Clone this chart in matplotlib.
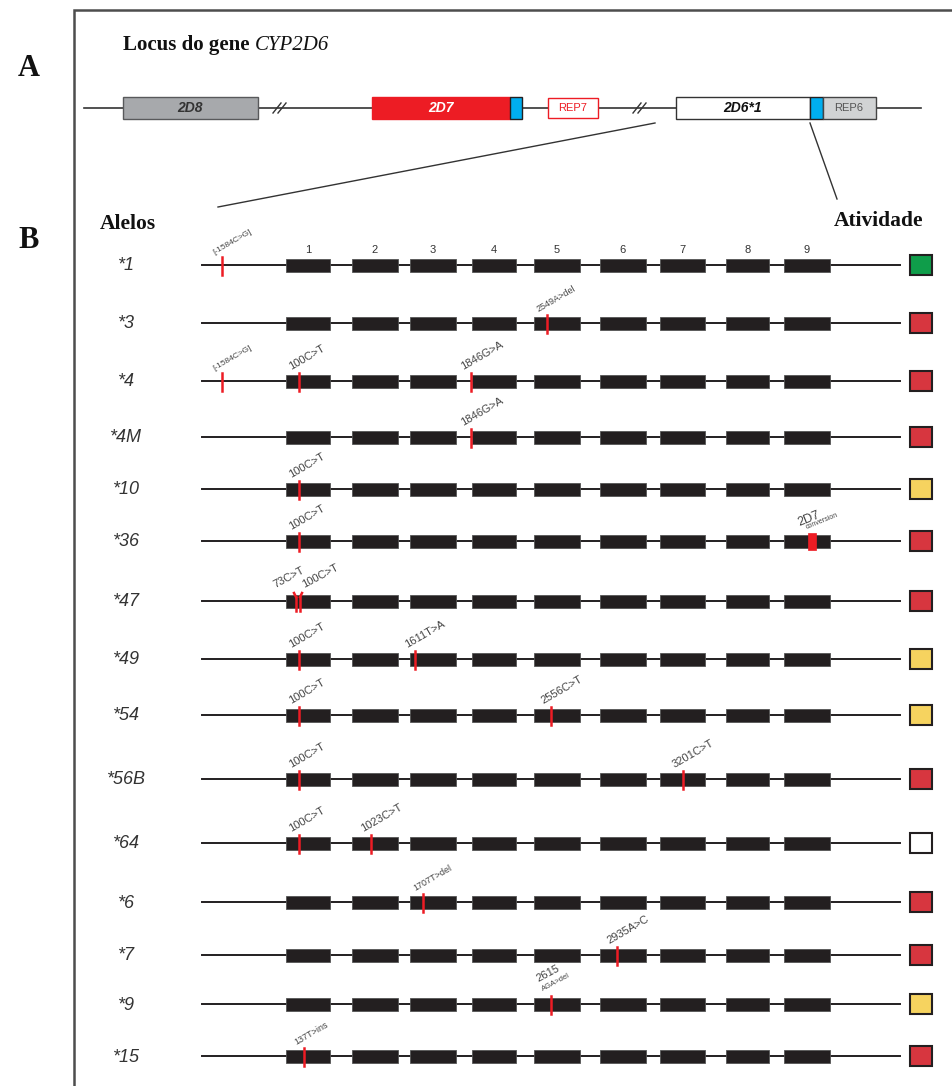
import matplotlib
matplotlib.use("Agg")
import matplotlib.pyplot as plt
from matplotlib.patches import Rectangle

# ---------------- data ----------------
alleles = ['*1', '*3', '*4', '*4M', '*10', '*36', '*47', '*49', '*54',
           '*56B', '*64', '*6', '*7', '*9', '*15']
activity = ['normal', 'null', 'null', 'null', 'reduced', 'null', 'null',
            'reduced', 'reduced', 'null', 'unknown', 'null', 'null',
            'reduced', 'null']
exon_numbers = ['1', '2', '3', '4', '5', '6', '7', '8', '9']
# exon extents on the schematic gene axis
exon_start = [286, 352, 410, 472, 534, 600, 660, 726, 784]
exon_end = [330, 398, 456, 516, 580, 646, 705, 769, 830]
# variants per allele: (schematic position, label)
mut_pos = [
    [222],
    [547],
    [222, 299, 471],
    [471],
    [299],
    [299],
    [296, 300],
    [299, 415],
    [299, 551],
    [299, 683],
    [299, 371],
    [423],
    [617],
    [551],
    [304],
]
mut_lab = [
    ['[-1584C>G]'],
    ['2549A>del'],
    ['[-1584C>G]', '100C>T', '1846G>A'],
    ['1846G>A'],
    ['100C>T'],
    ['100C>T'],
    ['73C>T', '100C>T'],
    ['100C>T', '1611T>A'],
    ['100C>T', '2556C>T'],
    ['100C>T', '3201C>T'],
    ['100C>T', '1023C>T'],
    ['1707T>del'],
    ['2935A>C'],
    ['2615\nAGA>del'],
    ['137T>ins'],
]
conversion_allele = '*36'
conversion_span = (808, 816)
conversion_label = '2D7'
conversion_sub = 'conversion'

# ---------------- styles ----------------
act_colors = {'normal': '#0f9d4a', 'null': '#d7363f',
              'reduced': '#f6d35f', 'unknown': '#ffffff'}
row_y = [265, 323, 381, 437, 489, 541, 601, 659, 715, 779, 843, 902, 955,
         1004, 1056]

W, H = 952, 1086
fig = plt.figure(figsize=(W / 100, H / 100), dpi=100)
ax = fig.add_axes([0, 0, 1, 1])
ax.set_xlim(0, W)
ax.set_ylim(H, 0)
ax.axis('off')

serif = ['Liberation Serif', 'DejaVu Serif']
sans = ['Liberation Sans', 'DejaVu Sans']

# frame
ax.plot([74, 74, W + 5], [H + 5, 10, 10], color='#4d4d4d', lw=1.8,
        solid_joinstyle='miter')

# panel letters
ax.text(29, 69, 'A', fontsize=22, fontweight='bold', family=serif,
        ha='center', va='center', color='#111')
ax.text(29, 240, 'B', fontsize=22, fontweight='bold', family=serif,
        ha='center', va='center', color='#111')

# title
t1 = ax.text(123, 50, 'Locus do gene', fontsize=15, fontweight='bold',
             family=serif, ha='left', va='baseline', color='#111')
fig.canvas.draw()
bb = t1.get_window_extent(renderer=fig.canvas.get_renderer())
x_end = ax.transData.inverted().transform((bb.x1, bb.y0))[0]
ax.text(x_end + 5, 50, 'CYP2D6', fontsize=15, style='italic', family=serif,
        ha='left', va='baseline', color='#111')

# ---------------- panel A: locus ----------------
ly = 108
ax.plot([84, 921], [ly, ly], color='#333', lw=1.2, zorder=1)


def box(x0, x1, fc, ec, y0=97, y1=119, lw=1.0):
    ax.add_patch(Rectangle((x0, y0), x1 - x0, y1 - y0, facecolor=fc,
                           edgecolor=ec, lw=lw, zorder=2))


box(123, 258, '#a7a9ac', '#58595b')
ax.text(190, 108, '2D8', fontsize=10, fontweight='bold', style='italic',
        family=sans, ha='center', va='center', color='#333', zorder=3)
box(372, 510, '#ed1c24', '#ed1c24')
box(510, 522, '#00aeef', '#231f20')
ax.text(441, 108, '2D7', fontsize=10, fontweight='bold', style='italic',
        family=sans, ha='center', va='center', color='white', zorder=3)
box(548, 598, 'white', '#ed1c24', y0=98, y1=118)
ax.text(573, 108, 'REP7', fontsize=8, family=sans, ha='center',
        va='center', color='#ed1c24', zorder=3)
box(676, 810, 'white', '#333')
ax.text(743, 108, '2D6*1', fontsize=10, fontweight='bold', style='italic',
        family=sans, ha='center', va='center', color='#111', zorder=3)
box(810, 823, '#00aeef', '#231f20')
box(823, 876, '#d1d3d4', '#444')
ax.text(849, 108, 'REP6', fontsize=8, family=sans, ha='center',
        va='center', color='#555', zorder=3)

for bx in (280, 640):
    for dx in (-3, 2):
        ax.plot([bx + dx - 4, bx + dx + 4], [ly + 5, ly - 5], color='#333',
                lw=1.0, zorder=3)

# connector lines
ax.plot([655, 218], [123, 207], color='#333', lw=1.0)
ax.plot([810, 837], [123, 199], color='#333', lw=1.0)

# ---------------- panel B ----------------
ax.text(100, 229, 'Alelos', fontsize=15.5, fontweight='bold', family=serif,
        ha='left', va='baseline', color='#111')
ax.text(834, 226, 'Atividade', fontsize=15.5, fontweight='bold',
        family=serif, ha='left', va='baseline', color='#111')

for num, s, e in zip(exon_numbers, exon_start, exon_end):
    ax.text((s + e) / 2, 250, num, fontsize=8, family=sans, ha='center',
            va='center', color='#333')

eh = 13
for i, (name, act) in enumerate(zip(alleles, activity)):
    y = row_y[i]
    ax.text(126, y + 1, name, fontsize=13, style='italic', family=sans,
            ha='center', va='center', color='#333')
    ax.plot([202, 900], [y, y], color='#231f20', lw=1.4, zorder=1)
    for s, e in zip(exon_start, exon_end):
        ax.add_patch(Rectangle((s, y - eh / 2), e - s, eh,
                               facecolor='#231f20', edgecolor='#555',
                               lw=0.6, zorder=2))
    ax.add_patch(Rectangle((910, y - 10), 22, 20, facecolor=act_colors[act],
                           edgecolor='#231f20', lw=1.5, zorder=2))
    if name == conversion_allele:
        c0, c1 = conversion_span
        ax.add_patch(Rectangle((c0, y - 8), c1 - c0, 17, facecolor='#ed1c24',
                               edgecolor='#ed1c24', lw=0.5, zorder=3))
        ax.text(c0 - 8, y - 12, conversion_label, fontsize=9, family=sans,
                rotation=22, rotation_mode='anchor', ha='left', va='bottom',
                color='#444')
        ax.text(c0 - 1, y - 10, conversion_sub, fontsize=5, family=sans,
                rotation=22, rotation_mode='anchor', ha='left', va='bottom',
                color='#444')
    for k, (p, lab) in enumerate(zip(mut_pos[i], mut_lab[i])):
        if name == '*47':
            top = -2 if k == 0 else 2
            ax.plot([p, p], [y + 10, y - 4], color='#ed1c24',
                    lw=1.8, zorder=3)
            ax.plot([p, p + top], [y - 4, y - 8], color='#ed1c24', lw=1.8,
                    zorder=3)
        else:
            ax.plot([p, p], [y - 8, y + 10], color='#ed1c24', lw=1.8,
                    zorder=3)
        fs = 8
        if lab.startswith('['):
            fs = 6
        if 'del' in lab or 'ins' in lab:
            fs = 6.5
        if name == '*47':
            ox = -20 if k == 0 else 5
            ax.text(p + ox, y - 11, lab, fontsize=8, family=sans,
                    rotation=28, rotation_mode='anchor', ha='left',
                    va='bottom', color='#444')
            continue
        if '\n' in lab:
            top_l, bot_l = lab.split('\n')
            ax.text(p - 12, y - 20, top_l, fontsize=8, family=sans,
                    rotation=28, rotation_mode='anchor', ha='left',
                    va='bottom', color='#444')
            ax.text(p - 7, y - 11, bot_l, fontsize=5.5, family=sans,
                    rotation=28, rotation_mode='anchor', ha='left',
                    va='bottom', color='#444')
            continue
        ax.text(p - 7, y - 9, lab, fontsize=fs, family=sans, rotation=30,
                rotation_mode='anchor', ha='left', va='bottom', color='#444')

fig.savefig('out.png', dpi=100)
